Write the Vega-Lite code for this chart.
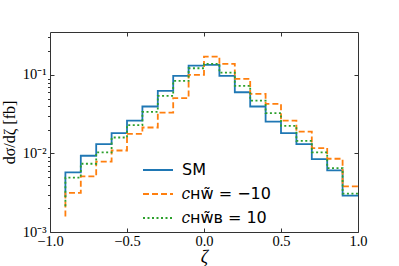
{
  "$schema": "https://vega.github.io/schema/vega-lite/v6.json",
  "width": 308,
  "height": 200,
  "autosize": {"type": "none"},
  "padding": {"left": 50, "top": 32, "right": 41, "bottom": 34},
  "config": {
    "view": {"stroke": "#333", "strokeWidth": 1},
    "font": "Liberation Serif",
    "axis": {"labelFont": "Liberation Serif", "labelFontSize": 14.5, "labelColor": "#000", "tickColor": "#333", "tickWidth": 1, "domain": false, "grid": false, "labelOverlap": false, "labelFlush": false}
  },
  "data": {"values": [
    {"x": -0.9, "y": 0.0028, "s": "SM"},
    {"x": -0.8, "y": 0.00574, "s": "SM"},
    {"x": -0.7, "y": 0.00935, "s": "SM"},
    {"x": -0.6, "y": 0.01315, "s": "SM"},
    {"x": -0.5, "y": 0.01815, "s": "SM"},
    {"x": -0.4, "y": 0.0262, "s": "SM"},
    {"x": -0.3, "y": 0.0396, "s": "SM"},
    {"x": -0.2, "y": 0.0626, "s": "SM"},
    {"x": -0.1, "y": 0.0971, "s": "SM"},
    {"x": 0.0, "y": 0.1313, "s": "SM"},
    {"x": 0.1, "y": 0.134, "s": "SM"},
    {"x": 0.2, "y": 0.0971, "s": "SM"},
    {"x": 0.3, "y": 0.0602, "s": "SM"},
    {"x": 0.4, "y": 0.0396, "s": "SM"},
    {"x": 0.5, "y": 0.0255, "s": "SM"},
    {"x": 0.6, "y": 0.01815, "s": "SM"},
    {"x": 0.7, "y": 0.01315, "s": "SM"},
    {"x": 0.8, "y": 0.00849, "s": "SM"},
    {"x": 0.9, "y": 0.00608, "s": "SM"},
    {"x": 1.0, "y": 0.0029, "s": "SM"},
    {"x": -0.9, "y": 0.00158, "s": "𝑐ʜᴡ̃ = −10"},
    {"x": -0.8, "y": 0.00314, "s": "𝑐ʜᴡ̃ = −10"},
    {"x": -0.7, "y": 0.00511, "s": "𝑐ʜᴡ̃ = −10"},
    {"x": -0.6, "y": 0.00785, "s": "𝑐ʜᴡ̃ = −10"},
    {"x": -0.5, "y": 0.01091, "s": "𝑐ʜᴡ̃ = −10"},
    {"x": -0.4, "y": 0.01778, "s": "𝑐ʜᴡ̃ = −10"},
    {"x": -0.3, "y": 0.0214, "s": "𝑐ʜᴡ̃ = −10"},
    {"x": -0.2, "y": 0.0332, "s": "𝑐ʜᴡ̃ = −10"},
    {"x": -0.1, "y": 0.0506, "s": "𝑐ʜᴡ̃ = −10"},
    {"x": 0.0, "y": 0.1, "s": "𝑐ʜᴡ̃ = −10"},
    {"x": 0.1, "y": 0.171, "s": "𝑐ʜᴡ̃ = −10"},
    {"x": 0.2, "y": 0.138, "s": "𝑐ʜᴡ̃ = −10"},
    {"x": 0.3, "y": 0.0889, "s": "𝑐ʜᴡ̃ = −10"},
    {"x": 0.4, "y": 0.0574, "s": "𝑐ʜᴡ̃ = −10"},
    {"x": 0.5, "y": 0.0428, "s": "𝑐ʜᴡ̃ = −10"},
    {"x": 0.6, "y": 0.0262, "s": "𝑐ʜᴡ̃ = −10"},
    {"x": 0.7, "y": 0.019, "s": "𝑐ʜᴡ̃ = −10"},
    {"x": 0.8, "y": 0.01172, "s": "𝑐ʜᴡ̃ = −10"},
    {"x": 0.9, "y": 0.00857, "s": "𝑐ʜᴡ̃ = −10"},
    {"x": 1.0, "y": 0.00381, "s": "𝑐ʜᴡ̃ = −10"},
    {"x": -0.9, "y": 0.00213, "s": "𝑐ʜᴡ̃ʙ = 10"},
    {"x": -0.8, "y": 0.00491, "s": "𝑐ʜᴡ̃ʙ = 10"},
    {"x": -0.7, "y": 0.0074, "s": "𝑐ʜᴡ̃ʙ = 10"},
    {"x": -0.6, "y": 0.0103, "s": "𝑐ʜᴡ̃ʙ = 10"},
    {"x": -0.5, "y": 0.01596, "s": "𝑐ʜᴡ̃ʙ = 10"},
    {"x": -0.4, "y": 0.023, "s": "𝑐ʜᴡ̃ʙ = 10"},
    {"x": -0.3, "y": 0.0339, "s": "𝑐ʜᴡ̃ʙ = 10"},
    {"x": -0.2, "y": 0.0541, "s": "𝑐ʜᴡ̃ʙ = 10"},
    {"x": -0.1, "y": 0.0839, "s": "𝑐ʜᴡ̃ʙ = 10"},
    {"x": 0.0, "y": 0.1216, "s": "𝑐ʜᴡ̃ʙ = 10"},
    {"x": 0.1, "y": 0.138, "s": "𝑐ʜᴡ̃ʙ = 10"},
    {"x": 0.2, "y": 0.107, "s": "𝑐ʜᴡ̃ʙ = 10"},
    {"x": 0.3, "y": 0.0725, "s": "𝑐ʜᴡ̃ʙ = 10"},
    {"x": 0.4, "y": 0.0471, "s": "𝑐ʜᴡ̃ʙ = 10"},
    {"x": 0.5, "y": 0.0326, "s": "𝑐ʜᴡ̃ʙ = 10"},
    {"x": 0.6, "y": 0.0225, "s": "𝑐ʜᴡ̃ʙ = 10"},
    {"x": 0.7, "y": 0.0145, "s": "𝑐ʜᴡ̃ʙ = 10"},
    {"x": 0.8, "y": 0.0103, "s": "𝑐ʜᴡ̃ʙ = 10"},
    {"x": 0.9, "y": 0.00652, "s": "𝑐ʜᴡ̃ʙ = 10"},
    {"x": 1.0, "y": 0.00308, "s": "𝑐ʜᴡ̃ʙ = 10"}
  ]},
  "layer": [
    {
      "mark": {"type": "line", "interpolate": "step-before", "strokeWidth": 1.8, "clip": true},
      "encoding": {
        "x": {"field": "x", "type": "quantitative",
          "scale": {"domain": [-1, 1], "nice": false, "zero": false},
          "axis": {"orient": "bottom", "values": [-1, -0.5, 0, 0.5, 1], "format": ".1f", "labelExpr": "replace(datum.label, '-', '−')", "tickSize": -4, "labelPadding": 6, "title": "ζ", "titleFont": "Liberation Serif", "titleFontSize": 18, "titleFontStyle": "italic", "titleFontWeight": "normal", "titlePadding": 1}},
        "y": {"field": "y", "type": "quantitative",
          "scale": {"type": "log", "domain": [0.001, 0.352], "nice": false},
          "axis": {"orient": "left",
            "values": [0.001, 0.002, 0.003, 0.004, 0.005, 0.006, 0.007, 0.008, 0.009, 0.01, 0.02, 0.03, 0.04, 0.05, 0.06, 0.07, 0.08, 0.09, 0.1, 0.2, 0.3],
            "labelExpr": "datum.value == 0.1 ? '10⁻¹' : datum.value == 0.01 ? '10⁻²' : datum.value == 0.001 ? '10⁻³' : ''",
            "tickSize": {"condition": {"test": "datum.value == 0.1 || datum.value == 0.01 || datum.value == 0.001", "value": -4}, "value": 2.5},
            "labelPadding": 8,
            "title": "dσ/dζ [fb]", "titleFont": "Liberation Serif", "titleFontSize": 16, "titleFontWeight": "normal", "titlePadding": 5}},
        "color": {"field": "s", "type": "nominal",
          "scale": {"domain": ["SM", "𝑐ʜᴡ̃ = −10", "𝑐ʜᴡ̃ʙ = 10"], "range": ["#1f77b4", "#ff7f0e", "#2ca02c"]},
          "legend": {"title": null, "orient": "none", "legendX": 92, "legendY": 122, "padding": 0, "symbolType": "stroke", "symbolSize": 900, "symbolStrokeWidth": 1.8, "rowPadding": -11, "labelOffset": 8, "labelFont": "DejaVu Sans", "labelFontSize": 16, "labelColor": "#000", "labelLimit": 300}},
        "strokeDash": {"field": "s", "type": "nominal",
          "scale": {"domain": ["SM", "𝑐ʜᴡ̃ = −10", "𝑐ʜᴡ̃ʙ = 10"], "range": [[1, 0], [6, 3], [2, 2.5]]},
          "legend": {"title": null, "orient": "none", "legendX": 92, "legendY": 122, "padding": 0, "symbolType": "stroke", "symbolSize": 900, "symbolStrokeWidth": 1.8, "rowPadding": -11, "labelOffset": 8, "labelFont": "DejaVu Sans", "labelFontSize": 16, "labelColor": "#000", "labelLimit": 300}}
      }
    },
    {
      "mark": {"type": "point", "opacity": 0},
      "encoding": {
        "x": {"field": "x", "type": "quantitative",
          "axis": {"orient": "top", "values": [-0.5, 0, 0.5], "labels": false, "tickSize": -4, "title": null}},
        "y": {"field": "y", "type": "quantitative",
          "axis": {"orient": "right", "values": [0.01, 0.1], "labels": false, "tickSize": -4, "title": null}}
      }
    }
  ],
  "resolve": {"axis": {"x": "independent", "y": "independent"}}
}
